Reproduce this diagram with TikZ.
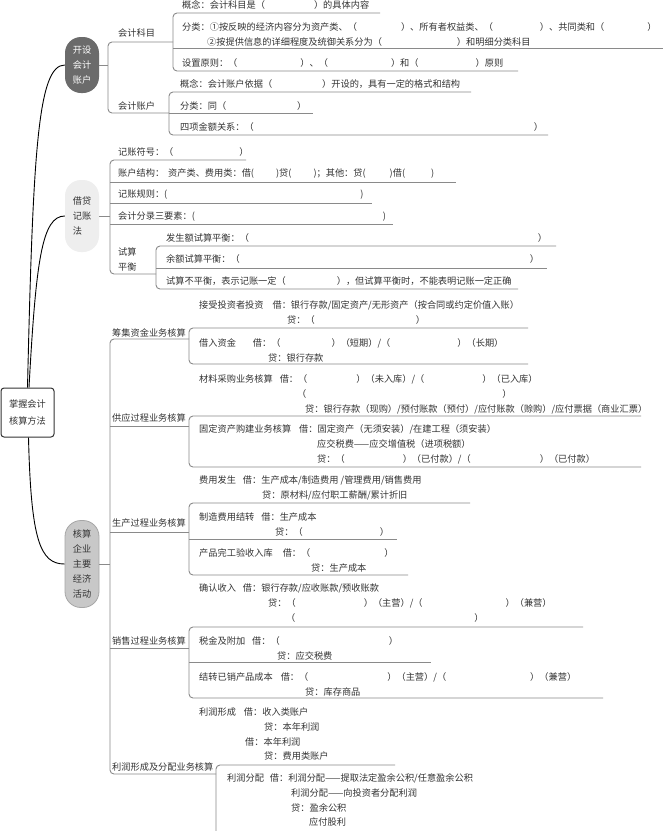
\documentclass[tikz,border=0pt]{standalone}
\usepackage{fontspec}
\newfontfamily\cjk{Noto Sans CJK SC}
\definecolor{txt}{HTML}{333333}
\definecolor{lineg}{HTML}{8A8A8A}
\definecolor{pillA}{HTML}{6B6B6B}
\definecolor{pillB}{HTML}{EEEEEE}
\definecolor{pillC}{HTML}{C8C8C8}
\definecolor{pillCb}{HTML}{A6A6A6}
\newcommand\gapp[1]{（\hspace{#1pt}）}
\begin{document}
\begin{tikzpicture}[x=1pt,y=-1pt,
  tx/.style={anchor=north west, inner sep=0pt, align=left, yshift=6.7pt, text=txt, font=\cjk\fontsize{9.2}{14.7}\selectfont},
  ul/.style={draw=lineg, line width=0.9pt, rounded corners=4pt},
  curve/.style={draw=black, line width=0.9pt},
  pill/.style={rectangle, rounded corners=16pt, minimum width=34pt, inner sep=0pt, font=\cjk\fontsize{9.2}{15}\selectfont},
  rootbox/.style={draw=txt, line width=1pt, rounded corners=3pt, fill=white, minimum width=53pt, minimum height=49pt, inner sep=0pt, align=center, text=txt, font=\cjk\fontsize{9.2}{17}\selectfont}
]
\fill[white] (0,0) rectangle (663,831);
\useasboundingbox (0,0) rectangle (663,831);

% main nodes
\node[rootbox] (root) at (27.5,412.5) {掌握会计\\核算方法};
\node[pill, fill=pillA, text=white, minimum height=56pt, align=center] (A) at (82,65) {开设\\会计\\账户};
\node[pill, fill=pillB, text=txt, minimum height=72pt, align=left] (B) at (82,216) {借贷\\记账\\法};
\node[pill, fill=pillC, draw=pillCb, line width=0.8pt, text=txt, minimum height=87pt, align=center] (C) at (82,564) {核算\\企业\\主要\\经济\\活动};

% curves from root
\draw[curve] (root.north) .. controls (33,150) and (38,65) .. (A.west);
\draw[curve] ([xshift=1.5pt]root.north) .. controls (36,260) and (42,216) .. (B.west);
\draw[curve] ([xshift=1pt]root.south) .. controls (31,540) and (40,564) .. (C.west);

% ===== A =====
\draw[ul] (A.east) -- (108,65);
\draw[ul] (173,42) -- (108,42) -- (108,113) -- (169,113);
\draw[ul] (380,13) -- (173,13) -- (173,71) -- (518,71);
\draw[ul] (173,48) -- (663,48);
\draw[ul] (471,92) -- (169,92) -- (169,135) -- (548,135);
\draw[ul] (169,113) -- (313,113);

\node[tx] (ka) at (118,33) {\strut 会计科目};
\node[tx] (kb) at (118,106) {\strut 会计账户};
\node[tx] (a1) at (182,5) {\strut 概念：会计科目是\gapp{49}的具体内容};
\node[tx] (a2) at (182,27) {\strut 分类：①按反映的经济内容分为资产类、\gapp{44}、所有者权益类、\gapp{47}、共同类和\gapp{43}\\\hspace*{25pt}②按提供信息的详细程度及统御关系分为\gapp{75}和明细分类科目};
\node[tx] (a3) at (182,63) {\strut 设置原则：\gapp{63}、\gapp{63}和\gapp{57}原则};
\node[tx] (a4) at (180,84) {\strut 概念：会计账户依据\gapp{50}开设的，具有一定的格式和结构};
\node[tx] (a5) at (180,106) {\strut 分类：同\gapp{71}};
\node[tx] (a6) at (180,127) {\strut 四项金额关系：\gapp{280}};

% ===== B =====
\draw[ul] (B.east) -- (110,216);
\draw[ul] (246,160) -- (110,160) -- (110,274) -- (156,274);
\draw[ul] (110,182) -- (456,182);
\draw[ul] (110,203) -- (372,203);
\draw[ul] (110,224) -- (393,224);
\draw[ul] (556,246) -- (156,246) -- (156,289) -- (518,289);
\draw[ul] (156,268) -- (547,268);

\node[tx] (b1) at (118,152) {\strut 记账符号：\gapp{66}};
\node[tx] (b2) at (118,173) {\strut 账户结构：\hspace{4pt}资产类、费用类：借(\hspace{22pt})贷(\hspace{22pt})；其他：贷(\hspace{24pt})借(\hspace{26pt})};
\node[tx] (b3) at (118,194) {\strut 记账规则：(\hspace{193pt})};
\node[tx] (b4) at (118,216) {\strut 会计分录三要素：(\hspace{188pt})};
\node[tx] (bl) at (118,252) {\strut 试算\\平衡};
\node[tx] (b6) at (166,238) {\strut 发生额试算平衡：\gapp{289}};
\node[tx] (b7) at (166,259) {\strut 余额试算平衡：\gapp{290}};
\node[tx] (b8) at (166,281) {\strut 试算不平衡，表示记账一定\gapp{51}，但试算平衡时，不能表明记账一定正确};

% ===== C =====
\draw[ul] (C.east) -- (110,564);
\draw[ul] (189,339) -- (110,339) -- (110,774) -- (216,774);
\draw[ul] (110,426) -- (189,426);
\draw[ul] (110,532) -- (189,532);
\draw[ul] (110,648) -- (189,648);
\draw[ul] (528,328) -- (189,328) -- (189,364) -- (528,364);
\draw[ul] (641,416) -- (189,416) -- (189,467) -- (641,467);
\draw[ul] (470,503) -- (189,503) -- (189,575) -- (408,575);
\draw[ul] (189,539) -- (397,539);
\draw[ul] (583,627) -- (189,627) -- (189,698) -- (603,698);
\draw[ul] (189,662) -- (431,662);
\draw[ul] (395,765) -- (216,765) -- (216,840);

\node[tx] (l1) at (112,333) {\strut 筹集资金业务核算};
\node[tx] (l2) at (112,418) {\strut 供应过程业务核算};
\node[tx] (l3) at (112,523) {\strut 生产过程业务核算};
\node[tx] (l4) at (112,641) {\strut 销售过程业务核算};
\node[tx] (l5) at (112,767) {\strut 利润形成及分配业务核算};

\node[tx] (c1) at (199,305) {\strut 接受投资者投资\hspace{9pt}借：银行存款/固定资产/无形资产（按合同或约定价值入账）\\\hspace*{88pt}贷：\gapp{101}};
\node[tx] (c2) at (199,343) {\strut 借入资金\hspace{17pt}借：\gapp{51}（短期）/\gapp{67}（长期）\\\hspace*{69pt}贷：银行存款};
\node[tx] (c3) at (199,379) {\strut 材料采购业务核算\hspace{7pt}借：\gapp{49}（未入库）/\gapp{58}（已入库）\\\hspace*{98pt}\gapp{196}\\\hspace*{106pt}贷：银行存款（现购）/预付账款（预付）/应付账款（赊购）/应付票据（商业汇票）};
\node[tx] (c4) at (199,429) {\strut 固定资产购建业务核算\hspace{8pt}借：固定资产（无须安装）/在建工程（须安装）\\\hspace*{118pt}应交税费——应交增值税（进项税额）\\\hspace*{118pt}贷：\gapp{58}（已付款）/\gapp{69}（已付款）};
\node[tx] (c5) at (199,480) {\strut 费用发生\hspace{7pt}借：生产成本/制造费用 /管理费用/销售费用\\\hspace*{63pt}贷：原材料/应付职工薪酬/累计折旧};
\node[tx] (c6) at (199,517) {\strut 制造费用结转\hspace{7pt}借：生产成本\\\hspace*{76pt}贷：\gapp{77}};
\node[tx] (c7) at (199,553) {\strut 产品完工验收入库\hspace{10pt}借：\gapp{74}\\\hspace*{112pt}贷：生产成本};
\node[tx] (c8) at (199,588) {\strut 确认收入\hspace{7pt}借：银行存款/应收账款/预收账款\\\hspace*{69pt}贷：\gapp{68}（主营）/\gapp{83}（兼营）\\\hspace*{87pt}\gapp{179}};
\node[tx] (c9) at (199,641) {\strut 税金及附加\hspace{7pt}借：\gapp{109}\\\hspace*{78pt}贷：应交税费};
\node[tx] (c10) at (199,677) {\strut 结转已销产品成本\hspace{8pt}借：\gapp{79}（主营）/\gapp{84}（兼营）\\\hspace*{106pt}贷：库存商品};
\node[tx] (c11) at (199,712) {\strut 利润形成\hspace{8pt}借：收入类账户\\\hspace*{65pt}贷：本年利润\\\hspace*{46pt}借：本年利润\\\hspace*{65pt}贷：费用类账户};
\node[tx] (c12) at (227,778) {\strut 利润分配\hspace{6pt}借：利润分配——提取法定盈余公积/任意盈余公积\\\hspace*{64pt}利润分配——向投资者分配利润\\\hspace*{64pt}贷：盈余公积\\\hspace*{82pt}应付股利};
\end{tikzpicture}
\end{document}
